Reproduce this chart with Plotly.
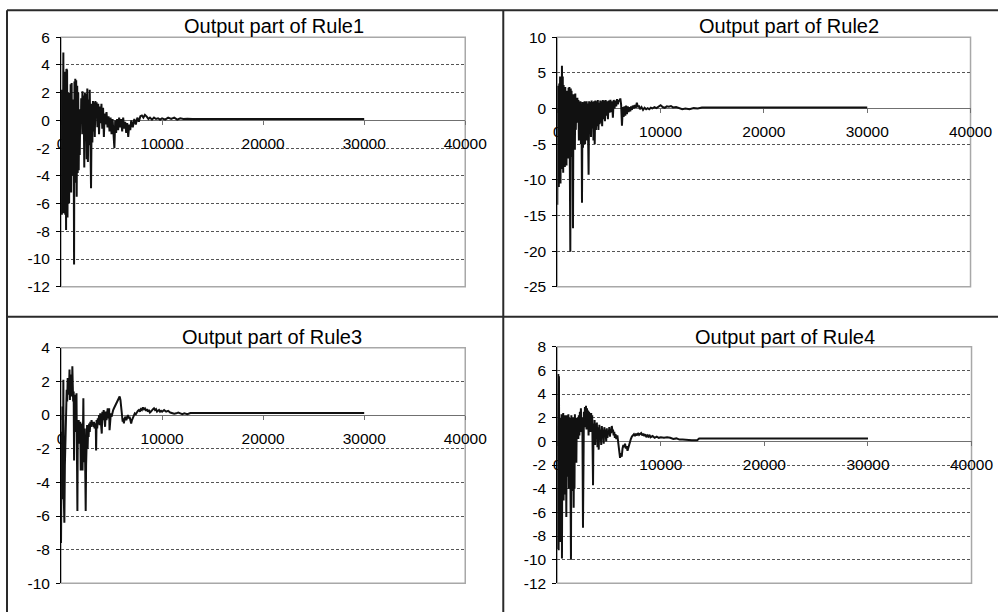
import plotly.graph_objects as go

# ---------------------------------------------------------------- data
RULE1_X = [0, 40, 80, 120, 160, 200, 230, 260, 300, 340, 380, 420, 460, 500, 530, 560, 600, 640, 680, 720,
           760, 800, 850, 900, 950, 1000, 1050, 1100, 1150, 1200, 1240, 1290, 1330, 1370, 1410, 1450, 1500, 1550,
           1600, 1650, 1700, 1750, 1800, 1850, 1900, 1950, 2000, 2060, 2120, 2180, 2240, 2300, 2360, 2420, 2480,
           2540, 2600, 2660, 2720, 2780, 2840, 2900, 2970, 3040, 3100, 3160, 3220, 3280, 3340, 3400, 3460, 3520,
           3600, 3680, 3760, 3840, 3920, 4000, 4080, 4160, 4240, 4320, 4400, 4500, 4600, 4700, 4800, 4900, 5000,
           5100, 5280, 5360, 5450, 5550, 5650, 5750, 5850, 5950, 6050, 6150, 6250, 6350, 6450, 6550, 6650, 6750,
           6850, 6950, 7100, 7250, 7400, 7550, 7700, 7850, 8000, 8150, 8300, 8500, 8650, 8800, 9000, 9200, 9400,
           9600, 9800, 10000, 10300, 10600, 10900, 11200, 11500, 11800, 12100, 12500, 13000, 16000, 20000, 24000,
           28000, 30000]
RULE1_Y = [-3.0, 2.2, -6.8, 1.5, -6.5, 3.0, 4.9, -6.7, 2.0, -5.0, 3.5, -6.8, 2.5, -7.9, 3.7, -6.5, 3.6, -7.0, 1.0, -5.5,
           2.0, -6.0, 0.5, -4.8, 2.6, -5.2, 2.7, -4.0, 0.8, -3.5, 1.5, -10.4, 2.8, -2.6, 3.0, -4.5, 2.9, -5.5,
           2.5, -3.8, 2.0, -3.6, 0.8, -2.5, 0.3, -1.0, 1.6, 0.0, 2.1, -1.0, 1.8, -3.4, 2.0, -1.5, 1.9,
           -2.8, 2.3, -3.0, 1.5, -1.8, 2.2, -2.0, -4.9, 1.2, -1.6, 1.4, -0.8, 1.3, -1.2, 1.4, 0.2, 1.3,
           -0.5, 1.2, -1.0, 1.0, -0.2, 1.2, -0.6, 0.9, -1.2, 0.5, -0.3, 0.6, -0.5, 0.3, -0.8, 0.2, -1.0,
           0.1, -2.0, 0.0, -0.9, 0.1, -0.7, 0.2, -0.5, 0.1, -0.8, 0.2, -0.6, -0.1, -0.9, -0.2, -1.2, -0.3,
           -0.7, 0.0, -0.5, 0.1, -0.3, 0.2, -0.1, 0.3, 0.35, 0.2, 0.4, 0.25, 0.1, 0.2, 0.05, 0.2, 0.1,
           0.15, 0.05, 0.15, 0.05, 0.2, 0.1, 0.2, 0.05, 0.15, 0.1, 0.12, 0.1, 0.1, 0.1, 0.1,
           0.1, 0.1]

RULE2_X = [0, 30, 70, 110, 150, 190, 230, 270, 310, 350, 400, 450, 490, 530, 570, 610, 650, 690, 730, 770,
           810, 850, 890, 930, 970, 1010, 1050, 1090, 1130, 1170, 1210, 1260, 1300, 1340, 1380, 1420, 1470, 1520,
           1560, 1600, 1640, 1700, 1740, 1790, 1840, 1890, 1940, 1990, 2040, 2090, 2140, 2190, 2240, 2290, 2340,
           2390, 2440, 2490, 2540, 2590, 2640, 2690, 2740, 2790, 2840, 2890, 2940, 3030, 3080, 3140, 3200, 3260,
           3320, 3380, 3440, 3500, 3560, 3620, 3680, 3740, 3800, 3860, 3920, 3980, 4040, 4100, 4160, 4220, 4280,
           4340, 4400, 4470, 4540, 4610, 4680, 4750, 4820, 4900, 4980, 5060, 5140, 5220, 5300, 5380, 5460, 5540,
           5620, 5700, 5780, 5860, 5940, 6020, 6100, 6180, 6260, 6340, 6420, 6500, 6580, 6660, 6740, 6820, 6900,
           6980, 7060, 7140, 7220, 7300, 7400, 7500, 7600, 7700, 7800, 7900, 8000, 8150, 8300, 8450, 8600, 8750,
           8900, 9050, 9200, 9400, 9600, 9800, 10000, 10200, 10400, 10600, 10800, 11000, 11200, 11500, 11800,
           12100, 12400, 12800, 13200, 13600, 14000, 20000, 25000, 30000]
RULE2_Y = [-13.5, 3.2, -10.5, 2.5, -11.0, 3.5, -9.0, 4.5, -10.5, 3.0, -8.5, 6.0, -7.5, 4.5, -9.0, 3.3, -7.5, 2.8, -8.2, 3.0,
           -7.0, 2.0, -8.0, 2.5, -6.5, 1.8, -7.0, 2.9, -6.5, 3.0, -5.0, -20.1, 2.8, -6.8, 2.5, -5.5, 2.0, -16.8,
           1.5, -5.5, 2.0, -5.8, 2.1, -3.0, 1.0, -2.0, 1.5, -0.5, 1.2, -4.5, 0.8, -3.0, 1.0, -5.0, 0.5,
           -13.2, 0.9, -5.5, 0.8, -4.0, 1.0, -5.0, 0.9, -3.5, 1.0, -4.5, 0.7, -9.3, 1.0, -3.5, 0.9, -4.0,
           1.1, -2.8, 0.9, -4.5, 1.0, -5.0, 1.1, -3.0, 1.0, -2.5, 1.2, -3.0, 0.8, -2.2, 1.1, -2.0, 1.0,
           -2.5, 1.2, -1.5, 1.1, -1.8, 1.2, -1.0, 1.0, -1.5, 1.1, -0.6, 1.2, -0.5, 1.0, -1.3, 1.2, 0.0,
           1.1, 0.3, 1.3, 0.6, 1.2, 1.0, 1.4, 0.5, -2.4, 0.2, -1.2, 0.3, -1.0, 0.4, -0.8, 0.3, -0.5,
           0.2, -0.4, 0.3, -0.2, 0.4, 0.0, 0.5, 0.1, 0.8, 0.2, 0.4, -0.1, 0.2, -0.2, 0.1, -0.1, 0.05,
           -0.1, 0.1, 0.0, 0.2, 0.05, 0.3, 0.45, 0.2, 0.1, 0.3, 0.25, 0.35, 0.15, 0.2, 0.05,
           -0.1, 0.0, -0.1, 0.05, 0.0, 0.15, 0.15, 0.15, 0.15]

RULE3_X = [0, 60, 100, 140, 190, 230, 270, 330, 380, 430, 480, 520, 560, 610, 660, 700, 740, 790, 840, 880,
           930, 980, 1030, 1080, 1120, 1160, 1200, 1250, 1290, 1330, 1380, 1430, 1480, 1530, 1570, 1620, 1660,
           1700, 1750, 1800, 1850, 1900, 1950, 1990, 2040, 2080, 2130, 2170, 2210, 2260, 2300, 2350, 2400, 2440,
           2480, 2530, 2580, 2630, 2680, 2730, 2780, 2840, 2900, 2960, 3020, 3080, 3140, 3200, 3260, 3320, 3380,
           3440, 3470, 3520, 3580, 3640, 3700, 3760, 3820, 3880, 3940, 4030, 4090, 4150, 4220, 4290, 4360, 4430,
           4500, 4560, 4620, 4690, 4760, 4800, 4860, 4930, 5000, 5080, 5160, 5240, 5320, 5400, 5480, 5560, 5640,
           5720, 5800, 5880, 5960, 6040, 6100, 6160, 6220, 6300, 6380, 6460, 6540, 6620, 6700, 6780, 6860, 6940,
           7020, 7100, 7200, 7300, 7400, 7500, 7600, 7700, 7800, 7900, 8000, 8100, 8200, 8300, 8400, 8500, 8600,
           8700, 8800, 8900, 9000, 9100, 9200, 9300, 9400, 9500, 9600, 9700, 9800, 9900, 10000, 10200, 10400,
           10600, 10800, 11000, 11200, 11400, 11600, 11800, 12000, 12200, 12500, 12800, 13000, 20000, 30000]
RULE3_Y = [-7.6, -1.0, -5.0, 0.5, -4.2, 2.1, -4.8, -6.4, -3.0, -1.0, 0.5, -0.3, 1.5, 0.8, 2.2, 1.2, 2.0, 1.5, 2.7, 0.9,
           2.4, 1.2, 2.0, 1.1, 2.9, 1.8, 0.8, 1.4, -2.7, 1.0, -0.6, 1.2, -1.0, 1.3, -0.5, -5.7, -0.6,
           -1.0, -0.3, -0.8, -1.7, -0.4, -3.3, -1.2, -2.5, -0.5, -3.3, -1.0, 1.0, -2.8, -2.2, -0.8, -3.5, -5.7,
           -3.0, -1.8, -0.6, -2.0, -0.8, -1.3, -0.5, -1.0, -0.4, -0.7, -0.3, -0.6, -0.4, -0.7, -0.4, -0.8, -0.5,
           -0.6, -2.1, -0.3, -0.8, -0.2, -0.5, 0.0, -0.6, 0.1, -0.4, -1.1, 0.2, -0.3, 0.3, -0.5, -0.7, 0.2,
           -0.3, 0.1, 0.4, -0.2, 0.4, -0.9, -0.2, 0.1, -0.1, 0.2, 0.3, 0.4, 0.5, 0.7, 0.8, 0.9, 1.0,
           1.1, 1.1, 0.9, 0.5, 0.0, -0.4, -0.2, -0.5, -0.2, -0.1, -0.3, -0.1, 0.0, -0.2, -0.1, -0.3, -0.5,
           -0.3, -0.2, 0.0, 0.1, 0.05, 0.2, 0.25, 0.3, 0.2, 0.35, 0.3, 0.45, 0.35, 0.4, 0.25, 0.35, 0.2,
           0.3, 0.15, 0.2, 0.3, 0.35, 0.4, 0.3, 0.35, 0.2, 0.25, 0.3, 0.2, 0.25, 0.2, 0.3, 0.2,
           0.25, 0.15, 0.1, 0.08, 0.1, 0.15, 0.1, 0.05, 0.1, 0.05, 0.12, 0.12, 0.12, 0.12]

RULE4_X = [0, 40, 70, 100, 130, 160, 200, 240, 290, 330, 370, 410, 450, 490, 530, 570, 610, 650, 700, 740,
           790, 830, 870, 910, 950, 990, 1030, 1070, 1110, 1150, 1190, 1230, 1280, 1320, 1360, 1400, 1440, 1480,
           1530, 1580, 1620, 1660, 1700, 1750, 1800, 1840, 1880, 1930, 1980, 2030, 2080, 2130, 2180, 2230, 2280,
           2330, 2380, 2430, 2480, 2520, 2570, 2620, 2670, 2720, 2770, 2820, 2870, 2920, 2970, 3020, 3070, 3120,
           3170, 3220, 3270, 3320, 3370, 3450, 3500, 3550, 3600, 3650, 3700, 3760, 3820, 3880, 3940, 4000, 4060,
           4120, 4180, 4240, 4300, 4360, 4420, 4480, 4540, 4600, 4660, 4720, 4780, 4840, 4900, 4960, 5020, 5080,
           5140, 5200, 5260, 5320, 5380, 5440, 5500, 5560, 5620, 5700, 5800, 5900, 5980, 6060, 6140, 6220, 6300,
           6380, 6460, 6540, 6620, 6700, 6780, 6860, 6940, 7020, 7100, 7200, 7300, 7400, 7500, 7600, 7700, 7800,
           7900, 8000, 8100, 8200, 8300, 8400, 8500, 8600, 8700, 8800, 8900, 9000, 9200, 9400, 9600, 9800, 10000,
           10300, 10600, 10900, 11200, 11500, 11800, 12100, 12500, 13000, 13500, 13700, 20000, 30000]
RULE4_Y = [-9.1, 2.0, -8.0, 5.7, -9.2, 5.5, -8.5, 2.0, -7.0, 1.5, -8.5, 2.3, -9.9, 1.0, -4.0, 2.4, -5.0, 1.8, -3.5, 2.2,
           -4.5, 0.5, -6.4, 2.2, -3.0, 2.0, -2.5, 2.3, -4.0, 1.5, -3.0, 2.0, -4.5, -10.0, 2.2, -4.2, 1.8, -3.0,
           2.0, -5.6, 1.5, -4.0, 2.3, -1.0, 1.5, -1.8, 2.0, 0.5, 1.8, 0.2, 2.2, 0.5, 2.5, 1.0, 2.8,
           0.8, 2.0, 0.6, -7.3, 1.0, 2.5, 1.2, 2.9, 1.5, 3.0, 1.0, 2.8, 1.5, 2.6, 0.5, 2.5, 1.2,
           2.0, 0.8, 2.4, 1.0, 2.2, -3.7, 1.5, 0.0, 1.8, -0.3, 1.5, 0.3, 1.6, -0.5, 1.2, -0.7, 1.4,
           0.2, 1.0, -0.3, 1.3, 0.4, 1.0, -0.2, 1.2, 0.5, 1.0, 0.0, 1.1, 0.3, 0.9, 0.6, 1.2, 0.4,
           1.0, 0.7, 1.3, 0.9, 1.0, 0.5, 0.8, 0.3, 0.6, 0.2, 0.5, -0.2, -0.9, -1.4, -1.0, -1.3, -0.6,
           -0.3, -0.5, -0.2, -0.6, -0.4, -0.8, -0.5, -0.2, 0.0, 0.2, 0.4, 0.5, 0.6, 0.45, 0.65, 0.5, 0.7,
           0.55, 0.6, 0.7, 0.5, 0.65, 0.45, 0.6, 0.35, 0.5, 0.4, 0.55, 0.35, 0.45, 0.3, 0.4, 0.3, 0.35,
           0.3, 0.35, 0.3, 0.2, 0.25, 0.15, 0.15, 0.1, 0.1, 0.1, 0.25, 0.25, 0.25]

TITLES = ["Output part of Rule1", "Output part of Rule2", "Output part of Rule3", "Output part of Rule4"]
SERIES_X = [RULE1_X, RULE2_X, RULE3_X, RULE4_X]
SERIES_Y = [RULE1_Y, RULE2_Y, RULE3_Y, RULE4_Y]

X_TICKS = [0, 10000, 20000, 30000, 40000]
X_TICK_LABELS = ["0", "10000", "20000", "30000", "40000"]

Y_TICKS = [
    [6, 4, 2, 0, -2, -4, -6, -8, -10, -12],
    [10, 5, 0, -5, -10, -15, -20, -25],
    [4, 2, 0, -2, -4, -6, -8, -10],
    [8, 6, 4, 2, 0, -2, -4, -6, -8, -10, -12],
]
Y_TICK_LABELS = [[str(v) for v in ticks] for ticks in Y_TICKS]

# ---------------------------------------------------------------- layout
# Placement is written in screen pixels of the final 998x612 view; the
# helpers below turn those into paper fractions of the drawing surface,
# which starts just inside the page margin and is shown at ~97%.
VIEW_W, VIEW_H = 998, 612
ORIGIN_X, ORIGIN_Y = 4.0, 7.8
SCALE = 0.974
FIG_W = round((VIEW_W - ORIGIN_X) / SCALE)
FIG_H = round((VIEW_H - ORIGIN_Y) / SCALE)


def fx(px):
    """screen column -> paper fraction"""
    return (px - ORIGIN_X) / SCALE / FIG_W


def fy(py):
    """screen row -> paper fraction (paper y grows upwards)"""
    return 1 - (py - ORIGIN_Y) / SCALE / FIG_H


# plot areas in screen pixels: (left, right, top, bottom)
PLOT_BOXES = [(61, 465, 36, 286), (557, 970, 36, 286), (61, 465, 347, 583), (557, 971, 346, 583)]
TITLE_POS = [(274, 25), (789, 25), (272, 336), (785, 336)]

FONT = "Liberation Sans, Arial, sans-serif"

fig = go.Figure()
layout = dict(
    width=FIG_W, height=FIG_H, autosize=False, margin=dict(l=0, r=0, t=0, b=0, pad=0),
    paper_bgcolor="white", plot_bgcolor="white", showlegend=False,
    font=dict(family=FONT, color="black"),
)
shapes, annotations = [], []

for i in range(4):
    sfx = "" if i == 0 else str(i + 1)
    left, right, top, bottom = PLOT_BOXES[i]
    xd = [fx(left), fx(right)]
    yd = [fy(bottom), fy(top)]
    ticks = Y_TICKS[i]
    ymin, ymax = min(ticks), max(ticks)
    # horizontal axis sits on the y = 0 line
    xpos = yd[0] + (0 - ymin) / (ymax - ymin) * (yd[1] - yd[0])

    fig.add_trace(go.Scatter(
        x=SERIES_X[i], y=SERIES_Y[i], mode="lines",
        line=dict(color="#111111", width=2),
        xaxis="x" + sfx, yaxis="y" + sfx, hoverinfo="skip",
    ))

    layout["xaxis" + sfx] = dict(
        domain=xd, range=[0, 40000], anchor="free", position=xpos,
        showline=True, linecolor="#707070", linewidth=1,
        ticks="outside", ticklen=4, tickcolor="#707070",
        tickvals=X_TICKS, ticktext=X_TICK_LABELS, ticklabelstandoff=5,
        tickfont=dict(size=15.5, family=FONT, color="black"),
        showgrid=False, zeroline=False, layer="below traces", fixedrange=True,
    )
    layout["yaxis" + sfx] = dict(
        domain=yd, range=[ymin, ymax], anchor="x" + sfx,
        showline=True, linecolor="black", linewidth=1,
        ticks="outside", ticklen=4, tickcolor="black",
        tickvals=ticks, ticktext=Y_TICK_LABELS[i], ticklabelstandoff=3,
        tickfont=dict(size=15.5, family=FONT, color="black"),
        showgrid=True, gridcolor="#555555", griddash="3px,2px", gridwidth=1,
        zeroline=False, layer="below traces", fixedrange=True,
    )
    # light grey plot-area frame
    shapes.append(dict(
        type="rect", xref=f"x{sfx} domain", yref=f"y{sfx} domain",
        x0=0, x1=1, y0=0, y1=1, line=dict(color="#a8a8a8", width=1.5), layer="below",
    ))
    tx, ty = TITLE_POS[i]
    annotations.append(dict(
        text=TITLES[i], xref="paper", yref="paper", x=fx(tx), y=fy(ty),
        xanchor="center", yanchor="middle", showarrow=False,
        font=dict(size=20, family=FONT, color="black"),
    ))

# table rules separating the four charts
RULE_COLOR = "#2a2a2a"
for x0, y0, x1, y1 in [(7, 9, VIEW_W, 9), (7, 316, VIEW_W, 316), (7, 9, 7, VIEW_H), (503, 9, 503, VIEW_H)]:
    shapes.append(dict(
        type="line", xref="paper", yref="paper",
        x0=fx(x0), x1=fx(x1), y0=fy(y0), y1=fy(y1),
        line=dict(color=RULE_COLOR, width=2),
    ))

layout["shapes"] = shapes
layout["annotations"] = annotations
fig.update_layout(**layout)
fig.write_html("out.html")
